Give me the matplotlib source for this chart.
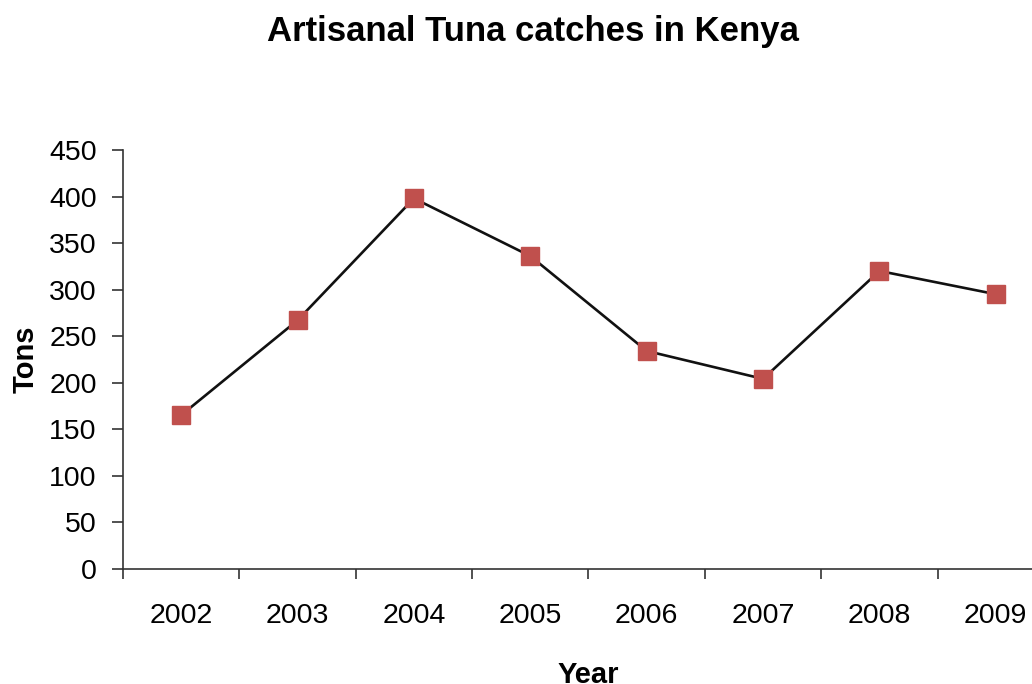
import numpy as np
import matplotlib.pyplot as plt

years = ['2002', '2003', '2004', '2005', '2006', '2007', '2008', '2009']
tons = [165, 267, 398, 336, 234, 204, 320, 295]
yticks = [0, 50, 100, 150, 200, 250, 300, 350, 400, 450]

plt.rcParams['font.family'] = ['Liberation Sans', 'DejaVu Sans']

fig = plt.figure(figsize=(10.32, 6.84), dpi=100)
# the category axis runs a little past the right edge of the figure
ax = fig.add_axes([0.1192, 0.1686, 0.9021, 0.6121])

x = np.arange(len(years))
ax.plot(x, tons, color='#111111', lw=1.9, marker='s', ms=12.3,
        mfc='#C0504D', mec='#C0504D', zorder=3, clip_on=False)

ax.set_xlim(-0.5, len(years) - 0.5)
ax.set_ylim(0, 450)
ax.set_yticks(yticks)
ax.set_xticks(np.arange(len(years) + 1) - 0.5)
ax.set_xticklabels([])
ax.set_xticks(x, minor=True)
ax.set_xticklabels(years, minor=True)
ax.tick_params(axis='x', which='minor', length=0, pad=25, labelsize=20.5)
ax.tick_params(axis='x', which='major', length=7, width=1.2, color='#333333')
ax.tick_params(axis='y', length=8, width=1.2, color='#333333', pad=11, labelsize=20.5)

for side in ['top', 'right']:
    ax.spines[side].set_visible(False)
for side in ['left', 'bottom']:
    ax.spines[side].set_color('#333333')
    ax.spines[side].set_linewidth(1.2)

ax.set_ylabel('Tons', fontsize=21, fontweight='bold', labelpad=7)
ax.set_xlabel('Year', fontsize=21, fontweight='bold', labelpad=23)

fig.text(0.516, 1 - 41 / 684, 'Artisanal Tuna catches in Kenya', ha='center',
         va='baseline', fontsize=25, fontweight='bold')

fig.savefig('out.png', dpi=100)
